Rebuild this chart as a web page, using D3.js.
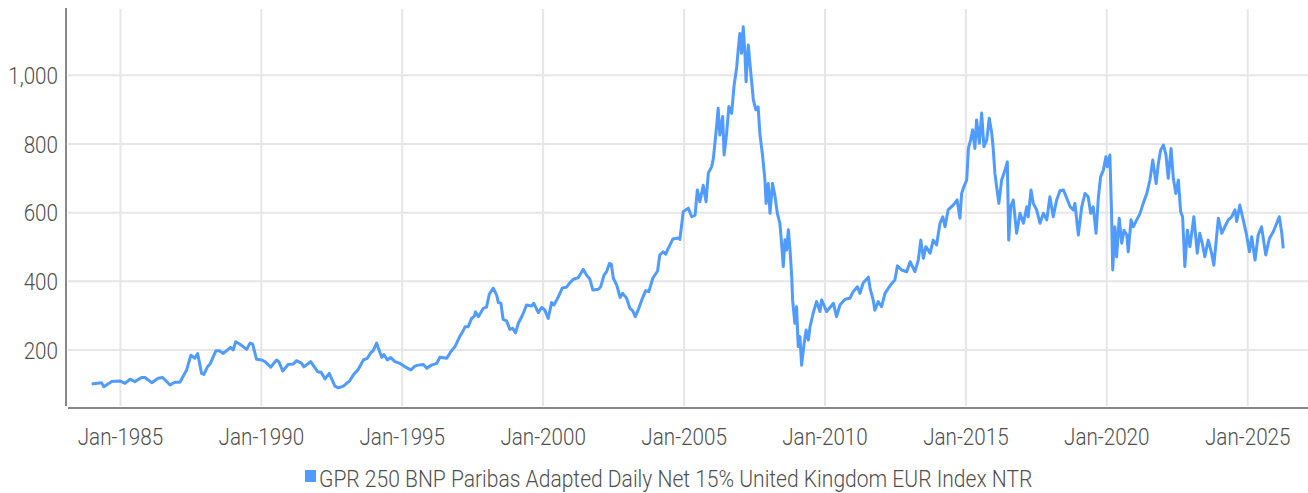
<!DOCTYPE html>
<html lang="en">
<head>
<meta charset="utf-8">
<title>GPR 250 United Kingdom EUR Index</title>
<script src="https://cdn.jsdelivr.net/npm/d3@7"></script>
<style>
  body { margin: 0; background: #fff; }
  text { font-family: Roboto, "Liberation Sans", sans-serif; font-size: 24px; font-weight: 300; fill: #4f4f4f; }
</style>
</head>
<body>
<div id="chart"></div>
<script>
// series + axis values
const seriesName = "GPR 250 BNP Paribas Adapted Daily Net 15% United Kingdom EUR Index NTR";
const xTickYears = [1985, 1990, 1995, 2000, 2005, 2010, 2015, 2020, 2025];
const yTicks = [200, 400, 600, 800, 1000];

// decimal years and index levels
const years = [
  1983.98, 1984.33, 1984.41, 1984.69, 1984.98, 1985.16, 1985.34, 1985.51, 1985.75, 1985.87,
  1986.11, 1986.34, 1986.50, 1986.76, 1986.93, 1987.11, 1987.35, 1987.50, 1987.64, 1987.74,
  1987.88, 1987.96, 1988.09, 1988.18, 1988.39, 1988.51, 1988.65, 1988.91, 1989.00, 1989.09,
  1989.24, 1989.48, 1989.60, 1989.69, 1989.83, 1990.01, 1990.13, 1990.33, 1990.54, 1990.62,
  1990.76, 1990.95, 1991.13, 1991.25, 1991.43, 1991.51, 1991.75, 1992.00, 1992.12, 1992.26,
  1992.41, 1992.61, 1992.73, 1992.91, 1993.14, 1993.26, 1993.44, 1993.62, 1993.76, 1993.88,
  1993.97, 1994.09, 1994.27, 1994.35, 1994.47, 1994.59, 1994.74, 1994.92, 1995.10, 1995.31,
  1995.45, 1995.57, 1995.75, 1995.87, 1996.04, 1996.22, 1996.34, 1996.58, 1996.72, 1996.87,
  1997.05, 1997.14, 1997.23, 1997.34, 1997.46, 1997.56, 1997.60, 1997.70, 1997.87, 1997.99,
  1998.09, 1998.23, 1998.35, 1998.41, 1998.50, 1998.58, 1998.70, 1998.82, 1998.92, 1999.02,
  1999.12, 1999.27, 1999.41, 1999.59, 1999.67, 1999.83, 1999.95, 2000.06, 2000.18, 2000.30,
  2000.38, 2000.45, 2000.54, 2000.68, 2000.83, 2000.93, 2001.07, 2001.25, 2001.42, 2001.54,
  2001.66, 2001.76, 2001.96, 2002.04, 2002.16, 2002.25, 2002.35, 2002.42, 2002.49, 2002.61,
  2002.73, 2002.82, 2002.96, 2003.08, 2003.18, 2003.27, 2003.37, 2003.50, 2003.64, 2003.75,
  2003.89, 2004.06, 2004.14, 2004.26, 2004.35, 2004.44, 2004.60, 2004.79, 2004.85, 2004.97,
  2005.15, 2005.27, 2005.39, 2005.47, 2005.56, 2005.68, 2005.78, 2005.86, 2005.98, 2006.04,
  2006.10, 2006.16, 2006.21, 2006.27, 2006.37, 2006.42, 2006.51, 2006.59, 2006.69, 2006.77,
  2006.87, 2006.92, 2006.98, 2007.04, 2007.10, 2007.16, 2007.20, 2007.28, 2007.36, 2007.46,
  2007.55, 2007.63, 2007.69, 2007.79, 2007.87, 2007.91, 2007.99, 2008.05, 2008.14, 2008.23,
  2008.31, 2008.40, 2008.46, 2008.52, 2008.58, 2008.64, 2008.70, 2008.76, 2008.82, 2008.85,
  2008.93, 2008.99, 2009.05, 2009.11, 2009.17, 2009.26, 2009.33, 2009.41, 2009.47, 2009.58,
  2009.70, 2009.82, 2009.88, 2010.06, 2010.30, 2010.41, 2010.53, 2010.71, 2010.89, 2011.00,
  2011.15, 2011.24, 2011.36, 2011.54, 2011.60, 2011.71, 2011.77, 2011.89, 2012.01, 2012.13,
  2012.25, 2012.37, 2012.48, 2012.57, 2012.72, 2012.90, 2013.02, 2013.19, 2013.31, 2013.40,
  2013.49, 2013.58, 2013.73, 2013.84, 2013.96, 2014.08, 2014.18, 2014.26, 2014.37, 2014.55,
  2014.69, 2014.79, 2014.85, 2014.93, 2015.03, 2015.09, 2015.17, 2015.24, 2015.32, 2015.38,
  2015.48, 2015.56, 2015.64, 2015.74, 2015.83, 2015.92, 2015.97, 2016.03, 2016.09, 2016.17,
  2016.27, 2016.39, 2016.47, 2016.52, 2016.59, 2016.68, 2016.80, 2016.92, 2017.04, 2017.16,
  2017.21, 2017.31, 2017.39, 2017.51, 2017.63, 2017.75, 2017.87, 2017.98, 2018.10, 2018.22,
  2018.34, 2018.46, 2018.58, 2018.70, 2018.81, 2018.87, 2018.99, 2019.11, 2019.23, 2019.34,
  2019.43, 2019.52, 2019.62, 2019.70, 2019.78, 2019.88, 2019.97, 2020.02, 2020.11, 2020.17,
  2020.21, 2020.29, 2020.35, 2020.44, 2020.53, 2020.61, 2020.71, 2020.76, 2020.86, 2020.94,
  2021.06, 2021.18, 2021.29, 2021.42, 2021.53, 2021.63, 2021.75, 2021.83, 2021.91, 2022.01,
  2022.10, 2022.18, 2022.28, 2022.36, 2022.45, 2022.54, 2022.62, 2022.69, 2022.77, 2022.86,
  2022.95, 2023.09, 2023.21, 2023.30, 2023.40, 2023.48, 2023.60, 2023.72, 2023.80, 2023.96,
  2024.08, 2024.19, 2024.31, 2024.43, 2024.55, 2024.61, 2024.72, 2024.84, 2024.96, 2025.06,
  2025.14, 2025.26, 2025.37, 2025.49, 2025.64, 2025.77, 2025.91, 2026.03, 2026.12, 2026.21,
  2026.26
];
const values = [
  101, 105, 93, 108, 110, 103, 115, 108, 120, 120,
  105, 118, 120, 98, 106, 106, 142, 185, 176, 190,
  132, 129, 151, 159, 198, 198, 190, 208, 200, 224,
  217, 202, 220, 217, 173, 171, 166, 150, 171, 166,
  139, 158, 159, 169, 161, 151, 166, 137, 135, 116,
  132, 95, 90, 95, 111, 127, 144, 171, 176, 192,
  198, 220, 179, 187, 171, 178, 166, 161, 151, 142,
  153, 156, 158, 147, 156, 161, 179, 176, 195, 210,
  241, 253, 268, 268, 292, 299, 311, 297, 321, 325,
  363, 380, 360, 338, 336, 289, 285, 260, 263, 250,
  278, 302, 331, 328, 336, 309, 324, 316, 292, 338,
  331, 341, 355, 381, 383, 394, 406, 411, 435, 418,
  406, 375, 377, 384, 418, 428, 452, 450, 409, 389,
  353, 365, 351, 321, 314, 297, 316, 346, 373, 370,
  409, 430, 477, 486, 479, 496, 523, 526, 522, 603,
  613, 588, 593, 666, 632, 680, 632, 715, 734, 758,
  807, 856, 904, 826, 880, 768, 831, 909, 889, 967,
  1025, 1074, 1122, 1064, 1141, 1064, 981, 1088, 1015, 928,
  899, 908, 831, 763, 695, 627, 685, 598, 685, 646,
  598, 569, 511, 443, 521, 491, 550, 491, 413, 346,
  278, 326, 210, 239, 156, 220, 258, 229, 268, 307,
  341, 312, 346, 312, 336, 297, 331, 348, 351, 370,
  384, 365, 396, 412, 380, 346, 316, 341, 326, 365,
  380, 394, 404, 445, 433, 428, 457, 428, 462, 520,
  467, 501, 482, 520, 506, 569, 588, 559, 608, 622,
  637, 584, 656, 676, 695, 787, 812, 841, 787, 870,
  802, 890, 792, 812, 875, 831, 787, 715, 676, 627,
  695, 724, 748, 520, 617, 637, 540, 598, 569, 617,
  588, 666, 627, 608, 569, 598, 579, 646, 588, 637,
  664, 666, 642, 617, 608, 627, 535, 617, 656, 646,
  598, 617, 540, 642, 704, 724, 763, 734, 768, 598,
  433, 559, 471, 584, 511, 549, 535, 486, 579, 559,
  579, 598, 627, 656, 695, 753, 685, 744, 782, 797,
  768, 700, 787, 700, 656, 695, 603, 588, 443, 549,
  501, 588, 482, 540, 506, 472, 520, 482, 447, 584,
  540, 559, 579, 588, 608, 574, 622, 579, 535, 486,
  530, 462, 535, 559, 477, 525, 545, 569, 588, 540,
  496
];

const width = 1308;
const height = 493;
const plot = { left: 68, right: 1308, top: 9, bottom: 406 };
const lineColor = "#509bff";
const squeeze = 0.86; // the reference font is a condensed face
const legendSqueeze = 0.877;

function toDate(yr) {
  const y0 = Math.floor(yr);
  const start = new Date(y0, 0, 1), end = new Date(y0 + 1, 0, 1);
  return new Date(+start + (yr - y0) * (end - start));
}

const data = years.map((t, i) => ({ date: toDate(t), value: values[i] }));

const x = d3.scaleTime()
  .domain([toDate(1983.14), toDate(2027.14)])
  .range([plot.left, plot.right]);

const y = d3.scaleLinear()
  .domain([37, 1193])
  .range([plot.bottom, plot.top]);

const svg = d3.select("#chart")
  .append("svg")
  .attr("width", width)
  .attr("height", height);

// grid
const xTicks = xTickYears.map(yr => new Date(yr, 0, 1));

svg.append("g")
  .selectAll("line")
  .data(yTicks)
  .join("line")
  .attr("x1", plot.left)
  .attr("x2", plot.right)
  .attr("y1", d => y(d))
  .attr("y2", d => y(d))
  .attr("stroke", "#e6e6e6")
  .attr("stroke-width", 2);

svg.append("g")
  .selectAll("line")
  .data(xTicks)
  .join("line")
  .attr("x1", d => x(d))
  .attr("x2", d => x(d))
  .attr("y1", plot.top)
  .attr("y2", plot.bottom)
  .attr("stroke", "#e6e6e6")
  .attr("stroke-width", 2);

// axis lines
svg.append("line")
  .attr("x1", 66).attr("x2", 66)
  .attr("y1", 8).attr("y2", plot.bottom)
  .attr("stroke", "#888").attr("stroke-width", 2);

svg.append("line")
  .attr("x1", plot.left).attr("x2", plot.right)
  .attr("y1", 408).attr("y2", 408)
  .attr("stroke", "#888").attr("stroke-width", 2);

// tick labels, squeezed horizontally
svg.append("g")
  .selectAll("text")
  .data(yTicks)
  .join("text")
  .attr("transform", d => `translate(58,${y(d)}) scale(${squeeze},1)`)
  .attr("dy", "0.36em")
  .attr("text-anchor", "end")
  .text(d => d3.format(",")(d));

const fmt = d3.timeFormat("%b-%Y");
svg.append("g")
  .selectAll("text")
  .data(xTicks)
  .join("text")
  .attr("transform", d => `translate(${x(d)},445) scale(${squeeze},1)`)
  .attr("text-anchor", "middle")
  .text(d => fmt(d));

// series
const line = d3.line()
  .x(d => x(d.date))
  .y(d => y(d.value));

svg.append("path")
  .datum(data)
  .attr("fill", "none")
  .attr("stroke", lineColor)
  .attr("stroke-width", 3)
  .attr("stroke-linejoin", "round")
  .attr("d", line);

// legend
const legend = svg.append("g");
const legText = legend.append("text")
  .attr("transform", `translate(14,487) scale(${legendSqueeze},1)`)
  .text(seriesName);
legend.append("rect")
  .attr("x", 0).attr("y", 470)
  .attr("width", 11).attr("height", 12)
  .attr("fill", lineColor);
const legW = 14 + legText.node().getComputedTextLength() * legendSqueeze;
legend.attr("transform", `translate(${Math.round(669 - legW / 2)},0)`);
</script>
</body>
</html>
